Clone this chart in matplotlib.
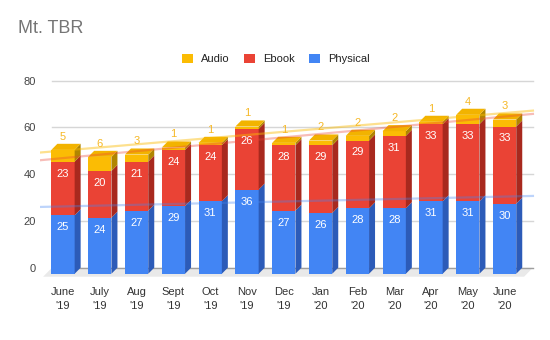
import matplotlib
matplotlib.use("Agg")
import matplotlib.pyplot as plt
from matplotlib.patches import Polygon, Patch

plt.rcParams['font.family'] = ['Liberation Sans', 'DejaVu Sans']

months = ["June\n'19", "July\n'19", "Aug\n'19", "Sept\n'19", "Oct\n'19", "Nov\n'19", "Dec\n'19",
          "Jan\n'20", "Feb\n'20", "Mar\n'20", "Apr\n'20", "May\n'20", "June\n'20"]
physical = [25, 24, 27, 29, 31, 36, 27, 26, 28, 28, 31, 31, 30]
ebook = [23, 20, 21, 24, 24, 26, 28, 29, 29, 31, 33, 33, 33]
audio = [5, 6, 3, 1, 1, 1, 1, 2, 2, 2, 1, 4, 3]

# trendlines (start / end)
trend_x = [-0.6, 12.77]
audio_trend = [49.3, 67.2]
ebook_trend = [46.0, 65.8]
physical_trend = [26.0, 30.7]

yticks = [0, 20, 40, 60, 80]

front = {'Physical': '#4285f4', 'Ebook': '#ea4335', 'Audio': '#fbbc04'}
side = {'Physical': '#2c5bb8', 'Ebook': '#a8291e', 'Audio': '#b08500'}
top = {'Physical': '#3b78e0', 'Ebook': '#d63b2e', 'Audio': '#f2b300'}

fig = plt.figure(figsize=(5.5, 3.4), dpi=100)
ax = fig.add_axes([40 / 550, (340 - 286) / 340, 500 / 550, 215 / 340])
ax.set_xlim(-0.625, 12.962)
ax.set_ylim(-7.83, 84.15)
for s in ax.spines.values():
    s.set_visible(False)

w = 0.633
dx = 0.163
dy = 2.6

# gridlines (back wall)
for t in yticks:
    ax.plot([-0.30, 12.77], [t, t], color='#d6d6d6' if t else '#9e9e9e', lw=1, zorder=1)

# floor
ax.add_patch(Polygon([(-0.54, -3.85), (12.53, -3.85), (12.77, 0), (-0.30, 0)],
                     closed=True, facecolor='#e9e9e9', edgecolor='none', zorder=0.5))

for i in range(len(months)):
    base = 0
    segs = [('Physical', physical[i]), ('Ebook', ebook[i]), ('Audio', audio[i])]
    for k, (name, v) in enumerate(segs):
        x0, x1 = i - w / 2, i + w / 2
        y0, y1 = base - dy, base + v - dy
        ax.add_patch(Polygon([(x0, y0), (x1, y0), (x1, y1), (x0, y1)], closed=True,
                             facecolor=front[name], edgecolor='none', zorder=3))
        ax.add_patch(Polygon([(x1, y0), (x1 + dx, y0 + dy), (x1 + dx, y1 + dy), (x1, y1)], closed=True,
                             facecolor=side[name], edgecolor='none', zorder=3))
        if k == 2:
            ax.add_patch(Polygon([(x0, y1), (x1, y1), (x1 + dx, y1 + dy), (x0 + dx, y1 + dy)], closed=True,
                                 facecolor=top[name], edgecolor='none', zorder=3))
            ax.annotate(str(v), (i, y1), xytext=(0, 9.5), textcoords='offset points',
                        ha='center', va='center', fontsize=8, color='#f6b826', zorder=5)
        else:
            ax.annotate(str(v), (i, y1), xytext=(0, -8.6), textcoords='offset points',
                        ha='center', va='center', fontsize=8, color='white', zorder=5)
        base += v

ax.plot(trend_x, audio_trend, color='#fbbc04', alpha=0.45, lw=1.6, zorder=4)
ax.plot(trend_x, ebook_trend, color='#ea4335', alpha=0.35, lw=1.6, zorder=4)
ax.plot(trend_x, physical_trend, color='#4285f4', alpha=0.35, lw=1.6, zorder=4)

ax.set_yticks(yticks)
ax.set_yticklabels([str(t) for t in yticks], fontsize=8, color='#444444')
ax.set_xticks(range(len(months)))
ax.set_xticklabels(months, fontsize=8, color='#333333', linespacing=1.45)
ax.tick_params(axis='both', length=0)
ax.tick_params(axis='y', pad=3)
ax.tick_params(axis='x', pad=1)

fig.text(18 / 550, 1 - 33.3 / 340, 'Mt. TBR', fontsize=13, color='#757575', va='baseline', ha='left')

handles = [Patch(facecolor=front['Audio'], edgecolor='none', label='Audio'),
           Patch(facecolor=front['Ebook'], edgecolor='none', label='Ebook'),
           Patch(facecolor=front['Physical'], edgecolor='none', label='Physical')]
fig.legend(handles=handles, loc='center', bbox_to_anchor=(276 / 550, 1 - 59 / 340), ncol=3,
           frameon=False, fontsize=8, handlelength=0.95, handleheight=0.95,
           handletextpad=0.75, columnspacing=1.3, labelcolor='#222222')

fig.savefig('out.png', dpi=100)
